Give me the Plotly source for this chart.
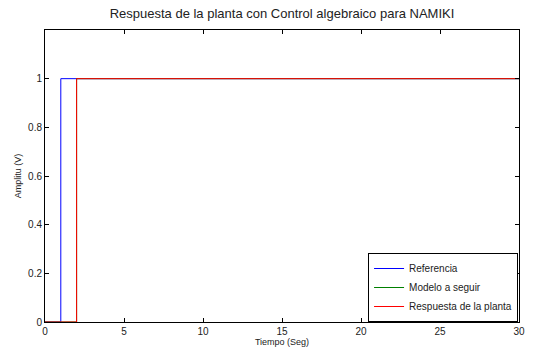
import plotly.graph_objects as go

t_ref = [0, 1, 1, 30]
y_ref = [0, 0, 1, 1]
t_model = [0, 2, 2, 30]
y_model = [0, 0, 1, 1]
t_resp = [0, 2, 2, 30]
y_resp = [0, 0, 1, 1]
x_ticks = [0, 5, 10, 15, 20, 25, 30]
y_ticks = [0, 0.2, 0.4, 0.6, 0.8, 1]
y_tick_text = ["0", "0.2", "0.4", "0.6", "0.8", "1"]

fig = go.Figure()
fig.add_trace(go.Scatter(x=t_ref, y=y_ref, mode="lines", name="Referencia",
                         line=dict(color="#0000ff", width=1)))
fig.add_trace(go.Scatter(x=t_model, y=y_model, mode="lines", name="Modelo a seguir",
                         line=dict(color="#008000", width=1)))
fig.add_trace(go.Scatter(x=t_resp, y=y_resp, mode="lines", name="Respuesta de la planta",
                         line=dict(color="#ff0000", width=1)))

axis_common = dict(showgrid=False, zeroline=False, showline=True, linecolor="black",
                   linewidth=1, mirror="ticks", ticks="inside", ticklen=4,
                   tickcolor="black", tickfont=dict(size=10, color="#222"),
                   automargin=False)

fig.update_layout(
    width=536, height=348,
    paper_bgcolor="white", plot_bgcolor="white",
    font=dict(family="Liberation Sans, Arial, sans-serif", color="#222"),
    margin=dict(l=45, r=17, t=30, b=26, autoexpand=False),
    title=dict(text="Respuesta de la planta con Control algebraico para NAMIKI",
               x=0.5, xanchor="center", xref="paper", y=1 - 13 / 348, yref="container",
               yanchor="middle", font=dict(size=13, color="#222")),
    xaxis=dict(range=[0, 30], tickvals=x_ticks,
               title=dict(text="Tiempo (Seg)", font=dict(size=9), standoff=0),
               **axis_common),
    yaxis=dict(range=[0, 1.2], tickvals=y_ticks, ticktext=y_tick_text,
               title=dict(text="Amplitu (V)", font=dict(size=9), standoff=4),
               **axis_common),
    legend=dict(x=0.998, y=0, xanchor="right", yanchor="bottom",
                bgcolor="white", bordercolor="black", borderwidth=1,
                font=dict(size=10), tracegroupgap=0, itemwidth=30),
    showlegend=True,
)

fig.write_html("out.html", config={"displayModeBar": False},
               post_script="document.body.style.margin='0px';")
